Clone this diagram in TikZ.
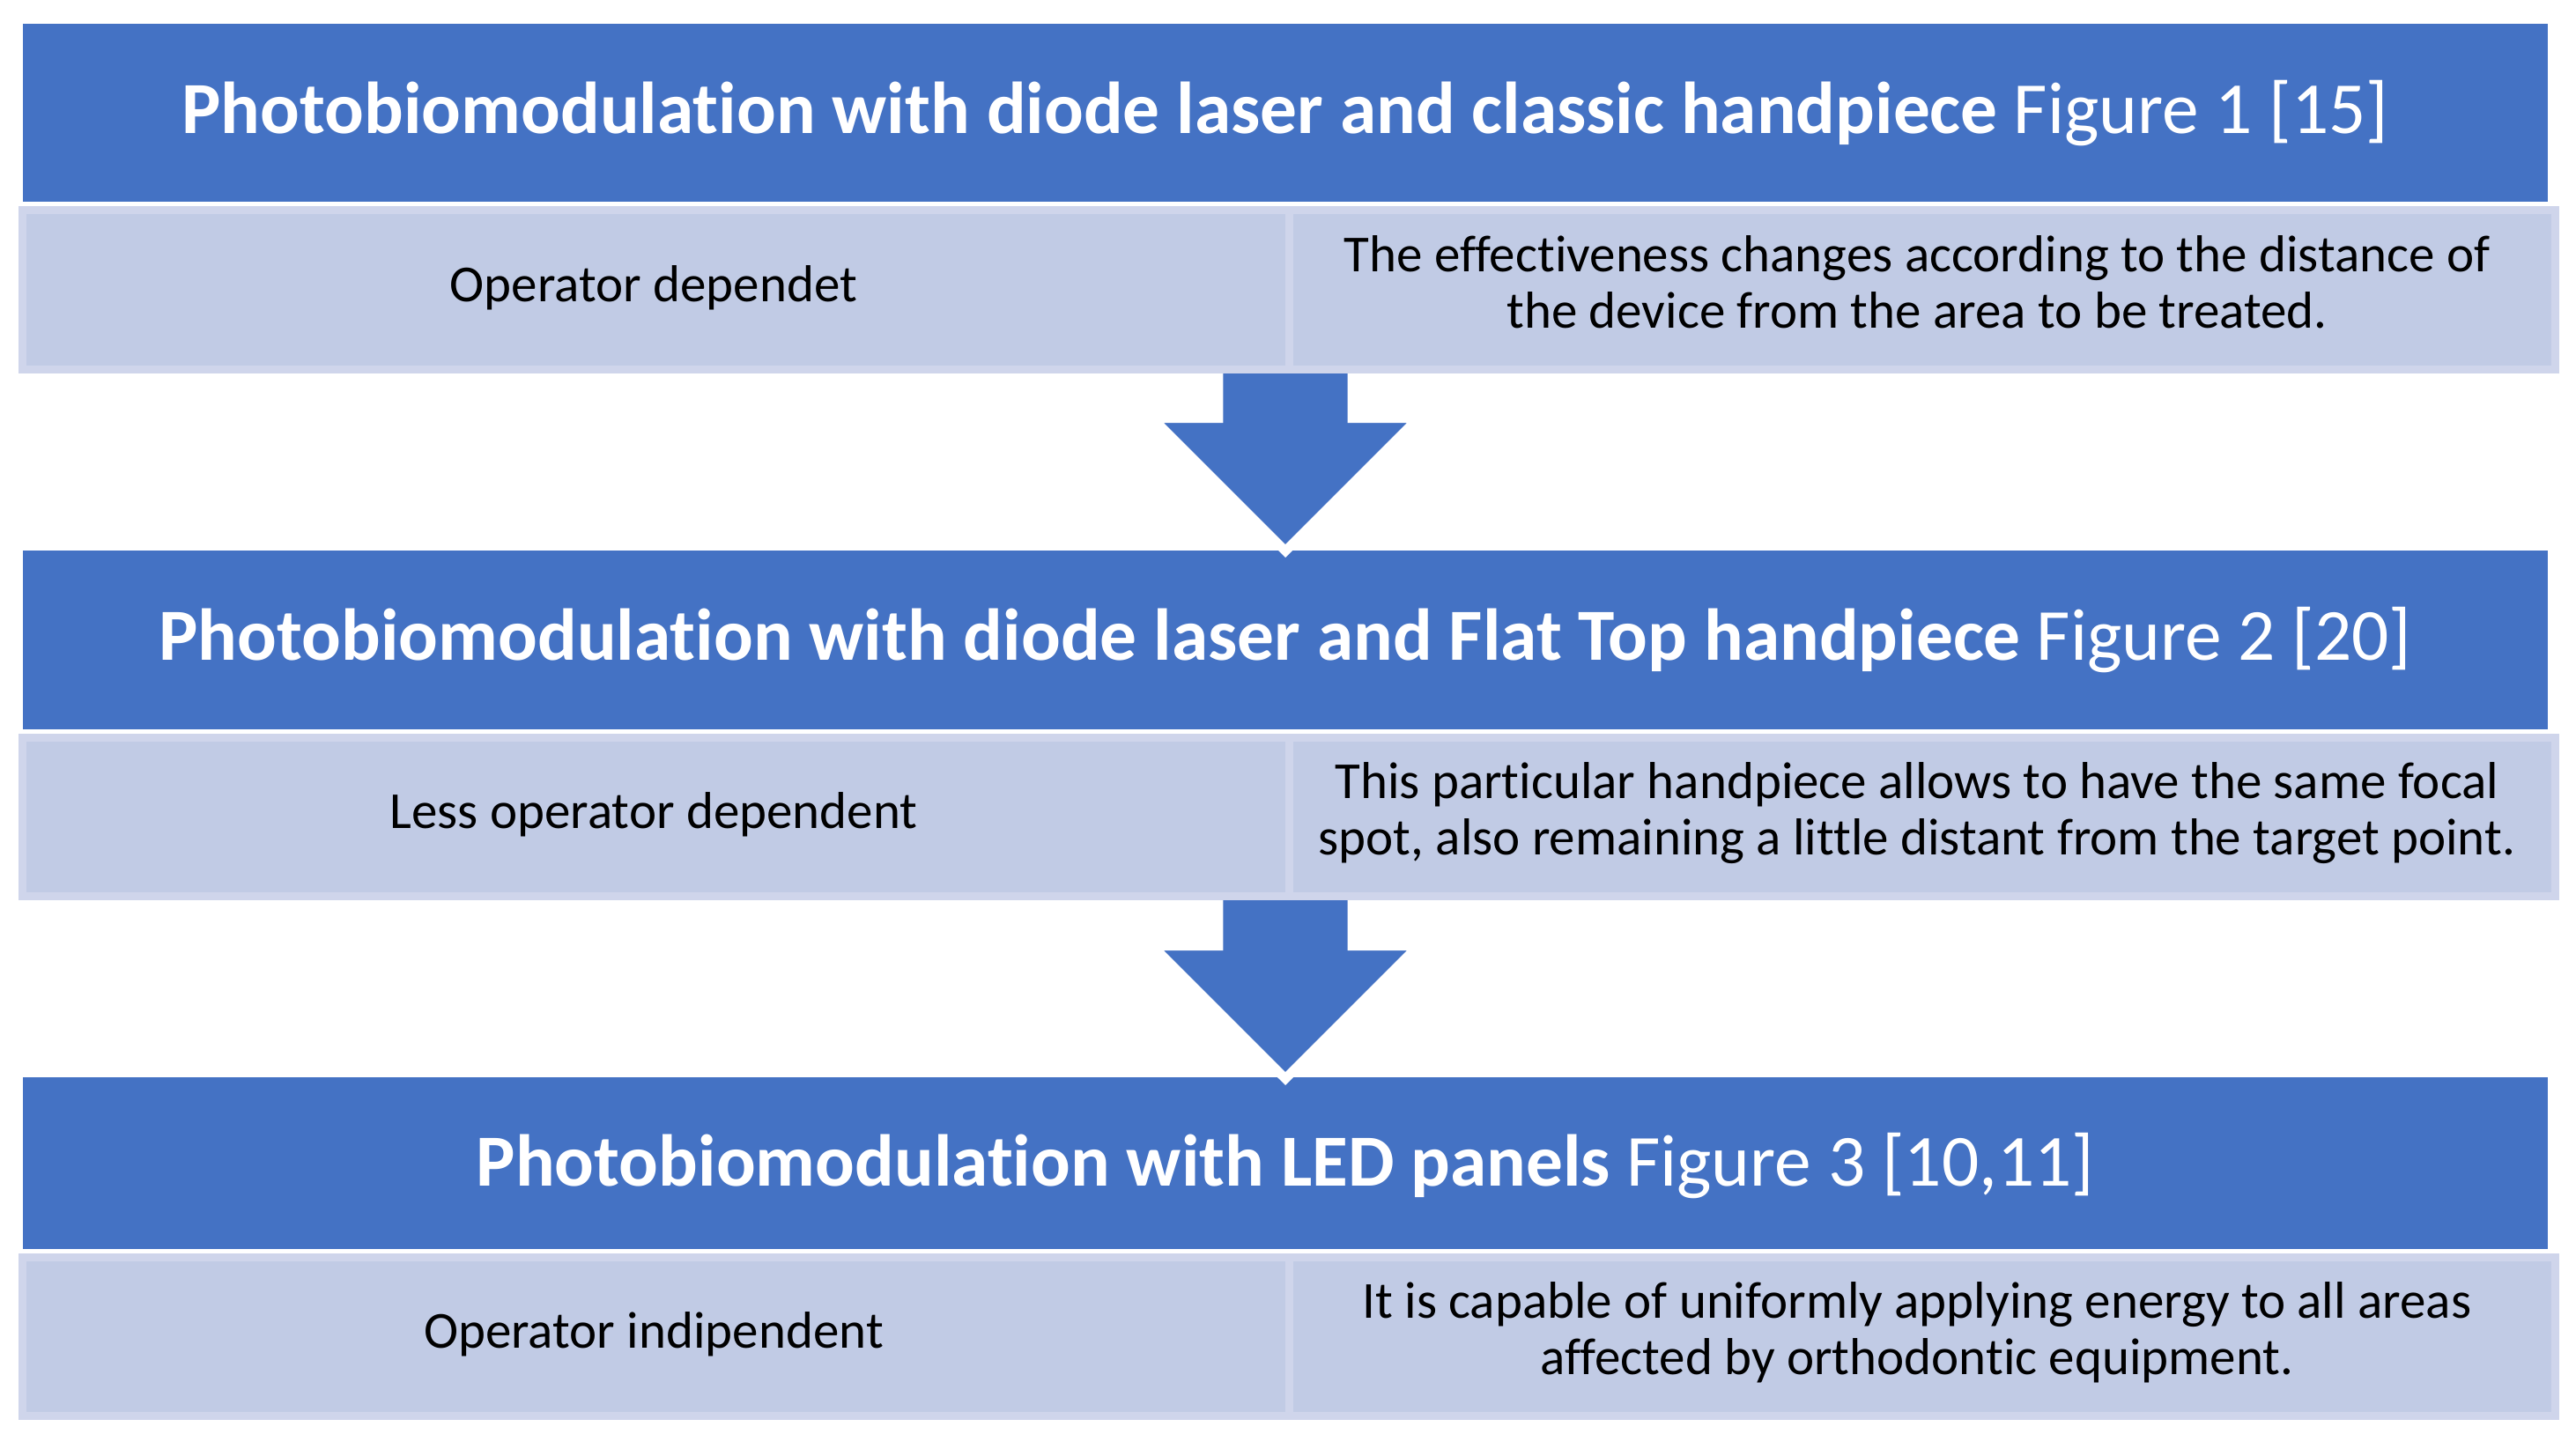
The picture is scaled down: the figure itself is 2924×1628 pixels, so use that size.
\documentclass[tikz,border=0pt]{standalone}
\usepackage{fontspec}
\setmainfont{Carlito}[Ligatures={NoCommon}]
\usetikzlibrary{calc}
\definecolor{hdblue}{HTML}{4472C4}
\definecolor{lightfill}{HTML}{C1CBE5}
\definecolor{lightedge}{HTML}{CFD5EB}
\tikzset{
  titlebox/.style={fill=hdblue, draw=none, anchor=north west, inner sep=0pt, minimum width=2866pt},
  lbox/.style={fill=lightfill, draw=lightedge, line width=9pt, anchor=north west, inner sep=0pt},
  titletext/.style={anchor=base, text=white, inner sep=0pt, font=\fontsize{83.4}{100}\selectfont},
  bodytext/.style={anchor=base, text=black, inner sep=0pt, align=center, font=\fontsize{59}{64}\selectfont},
  blockarrow/.style={fill=hdblue, draw=white, line width=10.6pt, miter limit=10, line join=miter}
}
\begin{document}
\begin{tikzpicture}[x=1pt,y=-1pt]
\useasboundingbox (0,0) rectangle (2924,1628);
% title bars
\node[titlebox, minimum height=202pt] (t1) at (26,27) {};
\node[titlebox, minimum height=203pt] (t2) at (26,625) {};
\node[titlebox, minimum height=195pt] (t3) at (26,1223) {};
% block arrows
\coordinate (tipA) at (1459,625.5);
\coordinate (tipB) at (1459,1224.5);
\draw[blockarrow] ($(tipA)+(-76,-215.5)$) -- ($(tipA)+(76,-215.5)$) -- ($(tipA)+(76,-150.8)$) -- ($(tipA)+(151,-150.8)$) -- (tipA) -- ($(tipA)+(-151,-150.8)$) -- ($(tipA)+(-76,-150.8)$) -- cycle;
\draw[blockarrow] ($(tipB)+(-76,-216.5)$) -- ($(tipB)+(76,-216.5)$) -- ($(tipB)+(76,-150.8)$) -- ($(tipB)+(151,-150.8)$) -- (tipB) -- ($(tipB)+(-151,-150.8)$) -- ($(tipB)+(-76,-150.8)$) -- cycle;
% light boxes
\node[lbox, minimum width=1438pt, minimum height=181pt] (l1) at (21,233.5) {};
\node[lbox, minimum width=1437pt, minimum height=181pt] (r1) at (1459,233.5) {};
\node[lbox, minimum width=1438pt, minimum height=180pt] (l2) at (21,832.5) {};
\node[lbox, minimum width=1437pt, minimum height=180pt] (r2) at (1459,832.5) {};
\node[lbox, minimum width=1438pt, minimum height=180pt] (l3) at (21,1422.5) {};
\node[lbox, minimum width=1437pt, minimum height=180pt] (r3) at (1459,1422.5) {};
% title texts
\node[titletext] (tt1) at (1459,151) {\textbf{Photobiomodulation with diode laser and classic handpiece} Figure 1 [15]};
\node[titletext] (tt2) at (1459,749) {\textbf{Photobiomodulation with diode laser and Flat Top handpiece} Figure 2 [20]};
\node[titletext] (tt3) at (1459,1346) {\textbf{Photobiomodulation with LED panels} Figure 3 [10,11]};
% body texts
\node[bodytext] (lt1) at (742,342) {Operator dependet};
\node[bodytext] (lt2) at (742,940) {Less operator dependent};
\node[bodytext] (lt3) at (742,1530) {Operator indipendent};
\node[bodytext] (rt1) at (2176,372) {The effectiveness changes according to the distance of\\the device from the area to be treated.};
\node[bodytext] (rt2) at (2176,970) {This particular handpiece allows to have the same focal\\spot, also remaining a little distant from the target point.};
\node[bodytext] (rt3) at (2176,1560) {It is capable of uniformly applying energy to all areas\\affected by orthodontic equipment.};
\end{tikzpicture}
\end{document}
